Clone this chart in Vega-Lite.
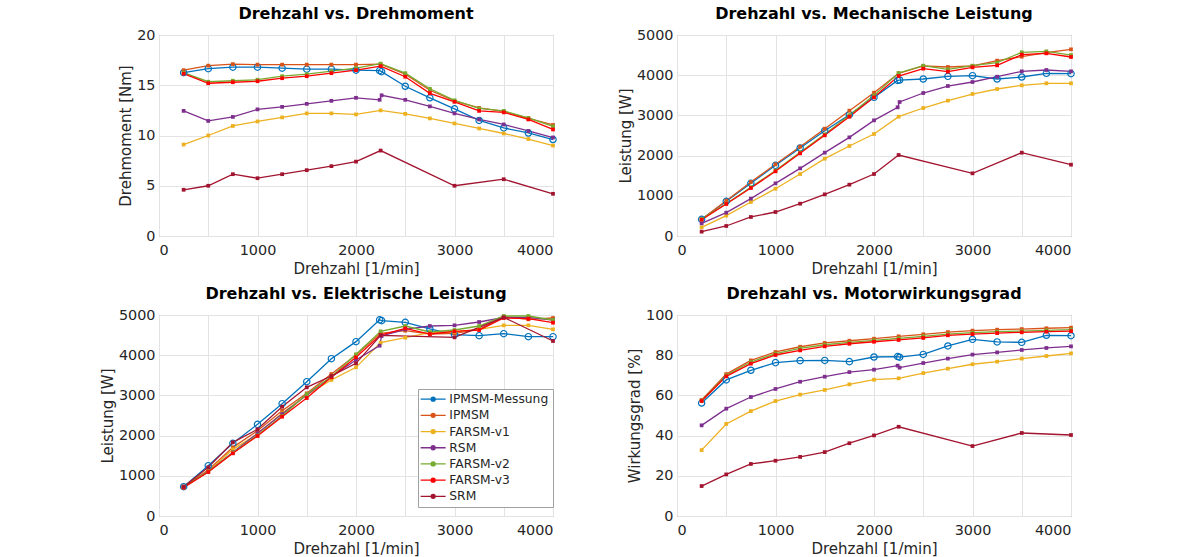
{
  "$schema": "https://vega.github.io/schema/vega-lite/v6.json",
  "background": "white",
  "padding": {"left": 99, "top": 5, "right": 5, "bottom": 5},
  "autosize": {"type": "pad"},
  "bounds": "flush",
  "columns": 2,
  "spacing": {"row": 79, "column": 124},
  "resolve": {"scale": {"color": "independent"}, "legend": {"color": "independent"}},
  "data": {"values": [
    {"m":"IPMSM-Messung","n":250,"M":16.25,"Pm":415,"Pe":730,"eta":56.2},
    {"m":"IPMSM-Messung","n":500,"M":16.65,"Pm":862,"Pe":1252,"eta":67.7},
    {"m":"IPMSM-Messung","n":750,"M":16.8,"Pm":1310,"Pe":1808,"eta":72.5},
    {"m":"IPMSM-Messung","n":1000,"M":16.8,"Pm":1758,"Pe":2280,"eta":76.3},
    {"m":"IPMSM-Messung","n":1250,"M":16.7,"Pm":2189,"Pe":2794,"eta":77.3},
    {"m":"IPMSM-Messung","n":1500,"M":16.6,"Pm":2620,"Pe":3342,"eta":77.4},
    {"m":"IPMSM-Messung","n":1750,"M":16.6,"Pm":3018,"Pe":3914,"eta":76.8},
    {"m":"IPMSM-Messung","n":2000,"M":16.5,"Pm":3449,"Pe":4337,"eta":79.1},
    {"m":"IPMSM-Messung","n":2240,"M":16.45,"Pm":3870,"Pe":4880,"eta":79.3},
    {"m":"IPMSM-Messung","n":2260,"M":16.35,"Pm":3880,"Pe":4860,"eta":79.0},
    {"m":"IPMSM-Messung","n":2500,"M":14.9,"Pm":3905,"Pe":4818,"eta":80.4},
    {"m":"IPMSM-Messung","n":2750,"M":13.75,"Pm":3972,"Pe":4652,"eta":84.6},
    {"m":"IPMSM-Messung","n":3000,"M":12.65,"Pm":3988,"Pe":4511,"eta":87.9},
    {"m":"IPMSM-Messung","n":3250,"M":11.5,"Pm":3905,"Pe":4486,"eta":86.6},
    {"m":"IPMSM-Messung","n":3500,"M":10.75,"Pm":3955,"Pe":4536,"eta":86.4},
    {"m":"IPMSM-Messung","n":3750,"M":10.25,"Pm":4046,"Pe":4461,"eta":89.9},
    {"m":"IPMSM-Messung","n":4000,"M":9.6,"Pm":4038,"Pe":4461,"eta":89.7},

    {"m":"IPMSM","n":250,"M":16.5,"Pm":415,"Pe":730,"eta":57.7},
    {"m":"IPMSM","n":500,"M":16.95,"Pm":879,"Pe":1144,"eta":70.6},
    {"m":"IPMSM","n":750,"M":17.1,"Pm":1343,"Pe":1708,"eta":77.4},
    {"m":"IPMSM","n":1000,"M":17.05,"Pm":1783,"Pe":2123,"eta":81.6},
    {"m":"IPMSM","n":1250,"M":17.05,"Pm":2222,"Pe":2620,"eta":84.2},
    {"m":"IPMSM","n":1500,"M":17.05,"Pm":2670,"Pe":3051,"eta":86.1},
    {"m":"IPMSM","n":1750,"M":17.05,"Pm":3118,"Pe":3532,"eta":87.2},
    {"m":"IPMSM","n":2000,"M":17.05,"Pm":3565,"Pe":4005,"eta":88.2},
    {"m":"IPMSM","n":2250,"M":17.1,"Pm":4046,"Pe":4544,"eta":89.4},
    {"m":"IPMSM","n":2500,"M":16.1,"Pm":4229,"Pe":4610,"eta":90.4},
    {"m":"IPMSM","n":2750,"M":14.5,"Pm":4204,"Pe":4527,"eta":91.5},
    {"m":"IPMSM","n":3000,"M":13.45,"Pm":4229,"Pe":4544,"eta":92.2},
    {"m":"IPMSM","n":3250,"M":12.75,"Pm":4362,"Pe":4643,"eta":92.7},
    {"m":"IPMSM","n":3500,"M":12.4,"Pm":4461,"Pe":4959,"eta":93.0},
    {"m":"IPMSM","n":3750,"M":11.7,"Pm":4560,"Pe":4892,"eta":93.4},
    {"m":"IPMSM","n":4000,"M":11.05,"Pm":4643,"Pe":4925,"eta":93.7},

    {"m":"FARSM-v1","n":250,"M":9.1,"Pm":216,"Pe":713,"eta":32.8},
    {"m":"FARSM-v1","n":500,"M":10.0,"Pm":506,"Pe":1111,"eta":45.8},
    {"m":"FARSM-v1","n":750,"M":10.95,"Pm":846,"Pe":1658,"eta":52.2},
    {"m":"FARSM-v1","n":1000,"M":11.4,"Pm":1177,"Pe":2040,"eta":57.2},
    {"m":"FARSM-v1","n":1250,"M":11.8,"Pm":1542,"Pe":2554,"eta":60.4},
    {"m":"FARSM-v1","n":1500,"M":12.2,"Pm":1924,"Pe":3010,"eta":62.7},
    {"m":"FARSM-v1","n":1750,"M":12.2,"Pm":2239,"Pe":3383,"eta":65.5},
    {"m":"FARSM-v1","n":2000,"M":12.1,"Pm":2537,"Pe":3698,"eta":67.8},
    {"m":"FARSM-v1","n":2250,"M":12.5,"Pm":2968,"Pe":4312,"eta":68.5},
    {"m":"FARSM-v1","n":2500,"M":12.15,"Pm":3184,"Pe":4436,"eta":71.1},
    {"m":"FARSM-v1","n":2750,"M":11.7,"Pm":3367,"Pe":4560,"eta":73.3},
    {"m":"FARSM-v1","n":3000,"M":11.2,"Pm":3532,"Pe":4577,"eta":75.5},
    {"m":"FARSM-v1","n":3250,"M":10.7,"Pm":3657,"Pe":4643,"eta":76.8},
    {"m":"FARSM-v1","n":3500,"M":10.2,"Pm":3748,"Pe":4743,"eta":78.3},
    {"m":"FARSM-v1","n":3750,"M":9.65,"Pm":3798,"Pe":4743,"eta":79.6},
    {"m":"FARSM-v1","n":4000,"M":9.0,"Pm":3798,"Pe":4643,"eta":80.9},

    {"m":"RSM","n":250,"M":12.45,"Pm":315,"Pe":730,"eta":45.1},
    {"m":"RSM","n":500,"M":11.45,"Pm":580,"Pe":1103,"eta":53.4},
    {"m":"RSM","n":750,"M":11.85,"Pm":929,"Pe":1584,"eta":59.2},
    {"m":"RSM","n":1000,"M":12.6,"Pm":1310,"Pe":2056,"eta":63.2},
    {"m":"RSM","n":1250,"M":12.85,"Pm":1683,"Pe":2537,"eta":66.8},
    {"m":"RSM","n":1500,"M":13.15,"Pm":2073,"Pe":3010,"eta":69.3},
    {"m":"RSM","n":1750,"M":13.45,"Pm":2454,"Pe":3466,"eta":71.6},
    {"m":"RSM","n":2000,"M":13.75,"Pm":2877,"Pe":3881,"eta":72.8},
    {"m":"RSM","n":2240,"M":13.55,"Pm":3201,"Pe":4237,"eta":74.8},
    {"m":"RSM","n":2260,"M":14.0,"Pm":3333,"Pe":4478,"eta":73.8},
    {"m":"RSM","n":2500,"M":13.55,"Pm":3557,"Pe":4643,"eta":76.1},
    {"m":"RSM","n":2750,"M":12.9,"Pm":3731,"Pe":4726,"eta":78.3},
    {"m":"RSM","n":3000,"M":12.2,"Pm":3831,"Pe":4743,"eta":80.3},
    {"m":"RSM","n":3250,"M":11.6,"Pm":3963,"Pe":4826,"eta":81.4},
    {"m":"RSM","n":3500,"M":11.1,"Pm":4096,"Pe":4942,"eta":82.6},
    {"m":"RSM","n":3750,"M":10.45,"Pm":4129,"Pe":4942,"eta":83.6},
    {"m":"RSM","n":4000,"M":9.8,"Pm":4096,"Pe":4876,"eta":84.4},

    {"m":"FARSM-v2","n":250,"M":16.25,"Pm":425,"Pe":730,"eta":57.4},
    {"m":"FARSM-v2","n":500,"M":15.35,"Pm":804,"Pe":1103,"eta":70.0},
    {"m":"FARSM-v2","n":750,"M":15.45,"Pm":1213,"Pe":1575,"eta":76.6},
    {"m":"FARSM-v2","n":1000,"M":15.55,"Pm":1628,"Pe":2007,"eta":80.8},
    {"m":"FARSM-v2","n":1250,"M":15.9,"Pm":2081,"Pe":2487,"eta":83.4},
    {"m":"FARSM-v2","n":1500,"M":16.1,"Pm":2529,"Pe":3035,"eta":85.2},
    {"m":"FARSM-v2","n":1750,"M":16.4,"Pm":3006,"Pe":3466,"eta":86.4},
    {"m":"FARSM-v2","n":2000,"M":16.7,"Pm":3498,"Pe":4022,"eta":87.4},
    {"m":"FARSM-v2","n":2250,"M":17.15,"Pm":4055,"Pe":4594,"eta":88.4},
    {"m":"FARSM-v2","n":2500,"M":16.2,"Pm":4237,"Pe":4726,"eta":89.4},
    {"m":"FARSM-v2","n":2750,"M":14.65,"Pm":4146,"Pe":4577,"eta":90.5},
    {"m":"FARSM-v2","n":3000,"M":13.5,"Pm":4237,"Pe":4627,"eta":91.2},
    {"m":"FARSM-v2","n":3250,"M":12.7,"Pm":4312,"Pe":4726,"eta":91.7},
    {"m":"FARSM-v2","n":3500,"M":12.45,"Pm":4570,"Pe":4975,"eta":92.0},
    {"m":"FARSM-v2","n":3750,"M":11.75,"Pm":4594,"Pe":4975,"eta":92.4},
    {"m":"FARSM-v2","n":4000,"M":10.9,"Pm":4502,"Pe":4876,"eta":92.7},

    {"m":"FARSM-v3","n":250,"M":16.15,"Pm":406,"Pe":705,"eta":57.2},
    {"m":"FARSM-v3","n":500,"M":15.2,"Pm":796,"Pe":1095,"eta":69.5},
    {"m":"FARSM-v3","n":750,"M":15.3,"Pm":1194,"Pe":1559,"eta":75.8},
    {"m":"FARSM-v3","n":1000,"M":15.4,"Pm":1609,"Pe":1990,"eta":80.1},
    {"m":"FARSM-v3","n":1250,"M":15.7,"Pm":2056,"Pe":2471,"eta":82.4},
    {"m":"FARSM-v3","n":1500,"M":15.9,"Pm":2504,"Pe":2935,"eta":84.4},
    {"m":"FARSM-v3","n":1750,"M":16.2,"Pm":2968,"Pe":3449,"eta":85.7},
    {"m":"FARSM-v3","n":2000,"M":16.5,"Pm":3449,"Pe":3947,"eta":86.7},
    {"m":"FARSM-v3","n":2250,"M":16.9,"Pm":3980,"Pe":4502,"eta":87.6},
    {"m":"FARSM-v3","n":2500,"M":15.85,"Pm":4163,"Pe":4668,"eta":88.6},
    {"m":"FARSM-v3","n":2750,"M":14.2,"Pm":4088,"Pe":4527,"eta":89.9},
    {"m":"FARSM-v3","n":3000,"M":13.35,"Pm":4196,"Pe":4594,"eta":90.5},
    {"m":"FARSM-v3","n":3250,"M":12.45,"Pm":4245,"Pe":4627,"eta":91.0},
    {"m":"FARSM-v3","n":3500,"M":12.3,"Pm":4511,"Pe":4925,"eta":91.4},
    {"m":"FARSM-v3","n":3750,"M":11.6,"Pm":4544,"Pe":4909,"eta":91.7},
    {"m":"FARSM-v3","n":4000,"M":10.6,"Pm":4453,"Pe":4809,"eta":92.0},

    {"m":"SRM","n":250,"M":4.6,"Pm":108,"Pe":730,"eta":14.9},
    {"m":"SRM","n":500,"M":5.0,"Pm":249,"Pe":1211,"eta":20.7},
    {"m":"SRM","n":750,"M":6.15,"Pm":473,"Pe":1833,"eta":25.9},
    {"m":"SRM","n":1000,"M":5.75,"Pm":597,"Pe":2156,"eta":27.5},
    {"m":"SRM","n":1250,"M":6.15,"Pm":804,"Pe":2720,"eta":29.4},
    {"m":"SRM","n":1500,"M":6.55,"Pm":1036,"Pe":3201,"eta":31.8},
    {"m":"SRM","n":1750,"M":6.95,"Pm":1277,"Pe":3483,"eta":36.2},
    {"m":"SRM","n":2000,"M":7.4,"Pm":1542,"Pe":3798,"eta":40.1},
    {"m":"SRM","n":2250,"M":8.5,"Pm":2015,"Pe":4494,"eta":44.4},
    {"m":"SRM","n":3000,"M":5.0,"Pm":1559,"Pe":4444,"eta":34.8},
    {"m":"SRM","n":3500,"M":5.65,"Pm":2073,"Pe":4942,"eta":41.3},
    {"m":"SRM","n":4000,"M":4.2,"Pm":1774,"Pe":4353,"eta":40.3}
  ]},
  "concat": [
    {
      "width": 394, "height": 201,
      "title": "Drehzahl vs. Drehmoment",
      "encoding": {
        "x": {"field": "n", "type": "quantitative", "scale": {"domain": [0, 4000], "nice": false}, "axis": {"values": [0,500,1000,1500,2000,2500,3000,3500,4000], "format": "d", "title": "Drehzahl [1/min]"}},
        "y": {"field": "M", "type": "quantitative", "scale": {"domain": [0, 20], "nice": false}, "axis": {"values": [0,5,10,15,20], "format": "d", "title": "Drehmoment [Nm]"}},
        "color": {"field": "m", "type": "nominal", "scale": {"domain": ["IPMSM-Messung","IPMSM","FARSM-v1","RSM","FARSM-v2","FARSM-v3","SRM"], "range": ["#0072BD","#D95319","#EDB120","#7E2F8E","#77AC30","#FF0000","#A2142F"]}, "legend": null}
      },
      "layer": [
        {"mark": {"type": "line", "strokeWidth": 1.3}},
        {"transform": [{"filter": "datum.m == 'IPMSM-Messung'"}], "mark": {"type": "point", "filled": false, "size": 40, "strokeWidth": 1.2, "opacity": 1}},
        {"transform": [{"filter": "datum.m != 'IPMSM-Messung'"}], "mark": {"type": "square", "size": 14, "opacity": 1}}
      ]
    },
    {
      "width": 394, "height": 201,
      "title": "Drehzahl vs. Mechanische Leistung",
      "encoding": {
        "x": {"field": "n", "type": "quantitative", "scale": {"domain": [0, 4000], "nice": false}, "axis": {"values": [0,500,1000,1500,2000,2500,3000,3500,4000], "format": "d", "title": "Drehzahl [1/min]"}},
        "y": {"field": "Pm", "type": "quantitative", "scale": {"domain": [0, 5000], "nice": false}, "axis": {"values": [0,1000,2000,3000,4000,5000], "format": "d", "title": "Leistung [W]"}},
        "color": {"field": "m", "type": "nominal", "scale": {"domain": ["IPMSM-Messung","IPMSM","FARSM-v1","RSM","FARSM-v2","FARSM-v3","SRM"], "range": ["#0072BD","#D95319","#EDB120","#7E2F8E","#77AC30","#FF0000","#A2142F"]}, "legend": null}
      },
      "layer": [
        {"mark": {"type": "line", "strokeWidth": 1.3}},
        {"transform": [{"filter": "datum.m == 'IPMSM-Messung'"}], "mark": {"type": "point", "filled": false, "size": 40, "strokeWidth": 1.2, "opacity": 1}},
        {"transform": [{"filter": "datum.m != 'IPMSM-Messung'"}], "mark": {"type": "square", "size": 14, "opacity": 1}}
      ]
    },
    {
      "width": 394, "height": 201,
      "title": "Drehzahl vs. Elektrische Leistung",
      "encoding": {
        "x": {"field": "n", "type": "quantitative", "scale": {"domain": [0, 4000], "nice": false}, "axis": {"values": [0,500,1000,1500,2000,2500,3000,3500,4000], "format": "d", "title": "Drehzahl [1/min]"}},
        "y": {"field": "Pe", "type": "quantitative", "scale": {"domain": [0, 5000], "nice": false}, "axis": {"values": [0,1000,2000,3000,4000,5000], "format": "d", "title": "Leistung [W]"}},
        "color": {"field": "m", "type": "nominal", "scale": {"domain": ["IPMSM-Messung","IPMSM","FARSM-v1","RSM","FARSM-v2","FARSM-v3","SRM"], "range": ["#0072BD","#D95319","#EDB120","#7E2F8E","#77AC30","#FF0000","#A2142F"]},
          "legend": {"title": null, "orient": "none", "legendX": 259, "legendY": 74, "symbolType": "M-2.5,0H2.5M0.4,0A0.4,0.4,0,1,1,-0.4,0A0.4,0.4,0,1,1,0.4,0", "symbolSize": 100, "symbolStrokeWidth": 1.3, "labelOffset": 10, "symbolOffset": 5, "padding": 4, "rowPadding": 3.2, "labelFontSize": 12.3, "labelColor": "#262626", "strokeColor": "#a0a0a0", "fillColor": "white"}}
      },
      "layer": [
        {"mark": {"type": "line", "strokeWidth": 1.3}},
        {"transform": [{"filter": "datum.m == 'IPMSM-Messung'"}], "mark": {"type": "point", "filled": false, "size": 40, "strokeWidth": 1.2, "opacity": 1}},
        {"transform": [{"filter": "datum.m != 'IPMSM-Messung'"}], "mark": {"type": "square", "size": 14, "opacity": 1}}
      ]
    },
    {
      "width": 394, "height": 201,
      "title": "Drehzahl vs. Motorwirkungsgrad",
      "encoding": {
        "x": {"field": "n", "type": "quantitative", "scale": {"domain": [0, 4000], "nice": false}, "axis": {"values": [0,500,1000,1500,2000,2500,3000,3500,4000], "format": "d", "title": "Drehzahl [1/min]"}},
        "y": {"field": "eta", "type": "quantitative", "scale": {"domain": [0, 100], "nice": false}, "axis": {"values": [0,20,40,60,80,100], "format": "d", "title": "Wirkungsgrad [%]"}},
        "color": {"field": "m", "type": "nominal", "scale": {"domain": ["IPMSM-Messung","IPMSM","FARSM-v1","RSM","FARSM-v2","FARSM-v3","SRM"], "range": ["#0072BD","#D95319","#EDB120","#7E2F8E","#77AC30","#FF0000","#A2142F"]}, "legend": null}
      },
      "layer": [
        {"mark": {"type": "line", "strokeWidth": 1.3}},
        {"transform": [{"filter": "datum.m == 'IPMSM-Messung'"}], "mark": {"type": "point", "filled": false, "size": 40, "strokeWidth": 1.2, "opacity": 1}},
        {"transform": [{"filter": "datum.m != 'IPMSM-Messung'"}], "mark": {"type": "square", "size": 14, "opacity": 1}}
      ]
    }
  ],
  "config": {
    "font": "DejaVu Sans",
    "view": {"stroke": "#8c8c8c", "strokeWidth": 1},
    "axis": {
      "domain": false, "ticks": false, "grid": true, "gridColor": "#e3e3e3", "gridWidth": 1,
      "labelFont": "DejaVu Sans", "labelFontSize": 14.4, "labelColor": "#262626", "labelPadding": 4,
      "titleFont": "DejaVu Sans", "titleFontSize": 15, "titleFontWeight": "normal", "titleColor": "#262626", "titlePadding": 3
    },
    "axisX": {"labelPadding": 7, "titlePadding": 5},
    "title": {"font": "DejaVu Sans", "fontSize": 16, "fontWeight": "bold", "color": "#000000", "offset": 5, "anchor": "middle"},
    "legend": {"labelFont": "DejaVu Sans"}
  }
}
